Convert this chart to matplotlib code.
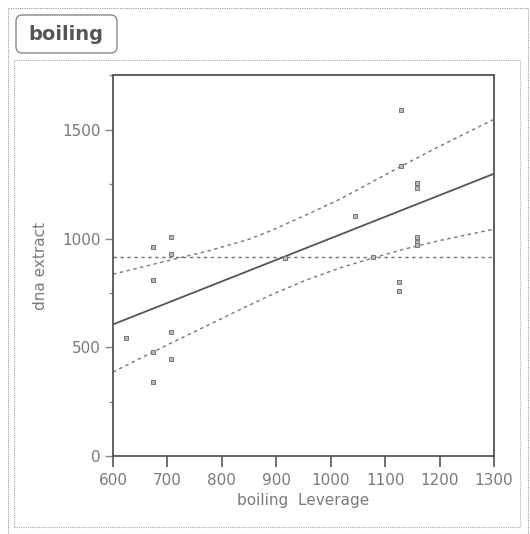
import matplotlib.pyplot as plt
from matplotlib.patches import FancyBboxPatch, Rectangle
from matplotlib.ticker import MultipleLocator

# punctele
boiling_lev = [624, 673, 673, 673, 674, 673, 706, 706, 706, 706,
               916, 1045, 1078, 1126, 1126, 1129, 1130, 1158, 1158,
               1158, 1158, 1158]
dna_extract = [541, 962, 809, 477, 340, 340, 1007, 928, 569, 447,
               909, 1103, 913, 801, 760, 1332, 1591, 1255, 1232,
               1007, 985, 970]

# dreapta de regresie si media
fit_x = [600, 1300]
fit_y = [605, 1298]
mean_y = 916

# curbele de incredere (citite)
upper_x = [600, 686, 778, 848, 894, 956, 1017, 1072, 1133, 1195, 1256, 1300]
upper_y = [836, 889, 945, 995, 1040, 1110, 1181, 1255, 1337, 1418, 1494, 1548]
lower_x = [600, 673, 747, 839, 894, 956, 1017, 1078, 1133, 1195, 1256, 1300]
lower_y = [386, 478, 568, 680, 745, 810, 865, 911, 950, 988, 1020, 1043]

txt = '#7a7a7a'
ink = '#555555'

fig = plt.figure(figsize=(5.3, 5.34), dpi=100)
W, H = 530, 534

# chenarul exterior si panoul interior
fig.patches.append(Rectangle((8 / W, 0), 520 / W, 526 / H, transform=fig.transFigure,
                             fill=False, ec='#999999', lw=0.8, ls=(0, (1, 1))))
fig.patches.append(Rectangle((14 / W, 7 / H), 506 / W, 467 / H, transform=fig.transFigure,
                             fill=False, ec='#aaaaaa', lw=0.8, ls=(0, (1, 1))))
fig.patches.append(FancyBboxPatch((16 / W, 1 - 53 / H), 101 / W, 38 / H,
                                  boxstyle='round,pad=0,rounding_size=0.012',
                                  transform=fig.transFigure, fill=False,
                                  ec='#888888', lw=1.0))
fig.text(66 / W, 1 - 34 / H, 'boiling', ha='center', va='center',
         fontsize=14, fontweight='bold', color=ink)

ax = fig.add_axes([113 / W, 1 - 456 / H, 381 / W, 381 / H])

ax.axhline(mean_y, color='#777777', lw=1.0, ls=(0, (2.5, 2.5)))
ax.plot(upper_x, upper_y, color='#777777', lw=1.0, ls=(0, (2.5, 2.5)))
ax.plot(lower_x, lower_y, color='#777777', lw=1.0, ls=(0, (2.5, 2.5)))
ax.plot(fit_x, fit_y, color=ink, lw=1.3)
ax.plot(boiling_lev, dna_extract, ls='none', marker='s', ms=3,
        mfc='#bbbbbb', mec='#777777', mew=0.7)

ax.set_xlim(600, 1300)
ax.set_ylim(0, 1752)
ax.set_xticks(range(600, 1301, 100))
ax.set_yticks([0, 500, 1000, 1500])
ax.yaxis.set_minor_locator(MultipleLocator(250))

for s in ax.spines.values():
    s.set_color(ink)
    s.set_linewidth(1.3)

ax.tick_params(axis='x', direction='out', length=8, width=1.2, color=ink,
               labelsize=11, labelcolor=txt, pad=4)
ax.tick_params(axis='y', which='major', direction='out', length=6, width=1,
               color='#888888', labelsize=11, labelcolor=txt, pad=3)
ax.tick_params(axis='y', which='minor', direction='out', length=3, width=1,
               color='#888888')

ax.set_xlabel('boiling  Leverage', fontsize=11, color=txt, labelpad=4)
ax.set_ylabel('dna extract', fontsize=11, color=txt, labelpad=10)

fig.savefig('out.png', dpi=100)
